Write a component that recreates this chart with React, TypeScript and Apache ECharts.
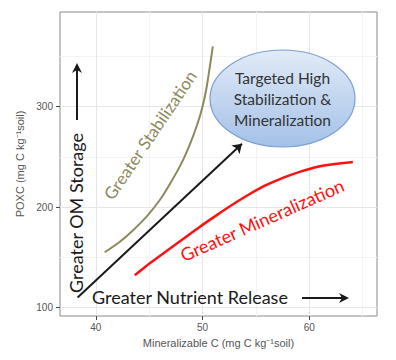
import React, { useEffect, useRef } from 'react';
import * as echarts from 'echarts';

const xTicks = [40, 50, 60];
const yTicks = [100, 200, 300];
const xMinor = [45, 55, 65];
const yMinor = [150, 250, 350];

const stabX = [40.84, 42.2, 43.5, 44.8, 46.0, 47.0, 48.0, 48.8, 49.5, 50.0, 50.4, 50.97];
const stabY = [155, 165, 177, 191, 207, 224, 243, 262, 282, 300, 320, 360];

const minX = [43.66, 45.06, 46.6, 48.15, 49.7, 51.34, 52.9, 54.43, 56.0, 57.53, 59.1, 60.71, 62.4, 64.09];
const minY = [132, 144, 156, 168, 180, 192, 203, 213, 222, 229, 235, 240, 243, 245];

const arrowX = [38.3, 53.7];
const arrowY = [110, 263];

const FONT = 'Lato, "Open Sans", sans-serif';
const AXF = '"Liberation Sans", Arial, sans-serif';

export default function App() {
  const ref = useRef<HTMLDivElement>(null);
  useEffect(() => {
    document.body.style.margin = '0';
    const chart = echarts.init(ref.current!, undefined, { renderer: 'svg' });
    const major = { color: '#e6e6e6', width: 1, type: 'solid' };
    const minor = { color: '#f3f3f3', width: 1, type: 'solid' };
    const txt = (text: string, x: number, y: number, size: number, fill: string, rotDeg: number) => ({
      type: 'text',
      x,
      y,
      rotation: (rotDeg * Math.PI) / 180,
      z: 100,
      style: {
        text,
        x: 0,
        y: 0,
        font: `${size}px ${FONT}`,
        fill,
        align: 'center',
        verticalAlign: 'middle',
        textAlign: 'center',
        textVerticalAlign: 'middle',
      },
    });
    chart.setOption({
      animation: false,
      backgroundColor: '#ffffff',
      grid: {
        left: 60,
        right: 19,
        top: 12,
        bottom: 44,
        show: true,
        borderColor: '#8a8a8a',
        borderWidth: 1,
        backgroundColor: '#ffffff',
      },
      xAxis: {
        type: 'value',
        min: 36.65,
        max: 66.35,
        axisLine: { show: false },
        splitLine: { show: false },
        axisTick: { show: true, customValues: xTicks, length: 4, lineStyle: { color: '#444' } },
        axisLabel: { customValues: xTicks, color: '#555', fontSize: 10, fontFamily: AXF, margin: 6 },
        name: 'Mineralizable C (mg C kg⁻¹soil)',
        nameLocation: 'middle',
        nameGap: 21,
        nameTextStyle: { color: '#555', fontSize: 11, fontFamily: AXF },
      },
      yAxis: {
        type: 'value',
        min: 91.5,
        max: 394.3,
        axisLine: { show: false },
        splitLine: { show: false },
        axisTick: { show: true, customValues: yTicks, length: 4, lineStyle: { color: '#444' } },
        axisLabel: { customValues: yTicks, color: '#555', fontSize: 10, fontFamily: AXF, margin: 7 },
        name: 'POXC (mg C kg⁻¹soil)',
        nameLocation: 'middle',
        nameGap: 19,
        nameTextStyle: { color: '#555', fontSize: 11, fontFamily: AXF },
      },
      series: [
        {
          type: 'line',
          data: [[36.65, 91.5]],
          showSymbol: false,
          symbol: 'none',
          lineStyle: { opacity: 0 },
          silent: true,
          z: 1,
          markLine: {
            silent: true,
            symbol: 'none',
            label: { show: false },
            animation: false,
            data: [
              ...xMinor.map((v) => ({ xAxis: v, lineStyle: minor })),
              ...yMinor.map((v) => ({ yAxis: v, lineStyle: minor })),
              ...xTicks.map((v) => ({ xAxis: v, lineStyle: major })),
              ...yTicks.map((v) => ({ yAxis: v, lineStyle: major })),
            ],
          },
        },
        {
          type: 'line',
          data: stabX.map((x, i) => [x, stabY[i]]),
          smooth: 0.2,
          showSymbol: false,
          symbol: 'none',
          lineStyle: { color: '#8c8a5b', width: 2 },
          z: 5,
        },
        {
          type: 'line',
          data: minX.map((x, i) => [x, minY[i]]),
          smooth: 0.2,
          showSymbol: false,
          symbol: 'none',
          lineStyle: { color: '#ff1010', width: 2.5 },
          z: 5,
        },
        {
          type: 'lines',
          coordinateSystem: 'cartesian2d',
          symbol: ['none', 'arrow'],
          symbolSize: 9,
          lineStyle: { color: '#1a1a1a', width: 2, opacity: 1 },
          data: [{ coords: arrowX.map((x, i) => [x, arrowY[i]]) }],
          z: 5,
        },
      ],
      graphic: [
        {
          type: 'ellipse',
          shape: { cx: 282.5, cy: 98.5, rx: 72.5, ry: 48.5 },
          z: 50,
          style: {
            fill: new echarts.graphic.LinearGradient(0, 0, 0, 1, [
              { offset: 0, color: '#e2ebf7' },
              { offset: 1, color: '#a3c1e8' },
            ]),
            stroke: '#7b9fcf',
            lineWidth: 1.2,
          },
        },
        {
          type: 'text',
          x: 282.5,
          y: 99,
          z: 100,
          style: {
            text: 'Targeted High\nStabilization &\nMineralization',
            x: 0,
            y: 0,
            font: `15.5px ${FONT}`,
            lineHeight: 21,
            fill: '#333333',
            align: 'center',
            verticalAlign: 'middle',
            textAlign: 'center',
            textVerticalAlign: 'middle',
          },
        },
        txt('Greater Stabilization', 150, 135, 17, '#8c8a5b', 56),
        txt('Greater OM Storage', 76, 213, 18, '#1a1a1a', 90),
        txt('Greater Mineralization', 262, 220, 18, '#ff1010', 24),
        txt('Greater Nutrient Release', 190, 297, 18, '#1a1a1a', 0),
        { type: 'line', z: 100, shape: { x1: 77, y1: 120, x2: 77, y2: 68 }, style: { stroke: '#1a1a1a', lineWidth: 2 } },
        { type: 'polygon', z: 100, shape: { points: [[77, 63], [72, 73], [77, 70], [82, 73]] }, style: { fill: '#1a1a1a' } },
        { type: 'line', z: 100, shape: { x1: 302, y1: 298, x2: 344, y2: 298 }, style: { stroke: '#1a1a1a', lineWidth: 2 } },
        { type: 'polygon', z: 100, shape: { points: [[349, 298], [339, 293], [342, 298], [339, 303]] }, style: { fill: '#1a1a1a' } },
      ],
    });
    return () => chart.dispose();
  }, []);
  return <div ref={ref} style={{ width: 396, height: 360 }} />;
}
